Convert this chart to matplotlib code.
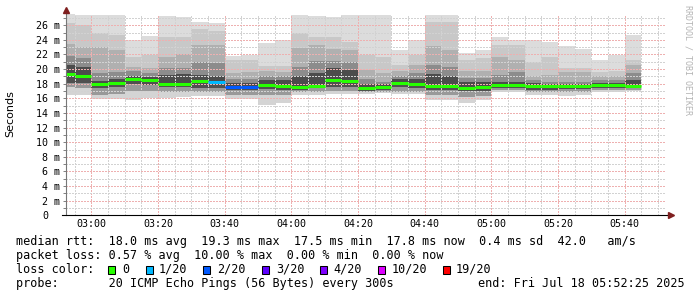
import numpy as np
import pandas as pd
import matplotlib
matplotlib.use('Agg')
import matplotlib.pyplot as plt
import matplotlib.dates as mdates
from matplotlib.ticker import MultipleLocator
from matplotlib.patches import Rectangle

plt.rcParams['font.family'] = ['DejaVu Sans Mono']

# one smoke column every 5 minutes (first one is cut by the left edge)
times = pd.date_range('2025-07-18 02:50', periods=35, freq='5min')
t_start = pd.Timestamp('2025-07-18 02:52:25')
t_end = pd.Timestamp('2025-07-18 05:52:25')

# smoke edges in ms, from the slowest ping down to the fastest
ping_max = [27.5, 27.4, 27.4, 27.4, 24.0, 24.5, 27.2, 27.1, 26.4, 26.3,
            21.8, 21.9, 23.6, 24.0, 27.4, 27.3, 27.1, 27.4, 27.4, 27.4,
            22.6, 24.0, 27.4, 27.4, 22.2, 22.6, 24.4, 24.0, 24.0, 23.7,
            23.1, 22.8, 21.3, 21.9, 24.7]
band1 = [26.3, 26.0, 24.9, 24.6, 21.7, 21.9, 24.4, 24.4, 25.5, 25.2,
         21.2, 21.3, 20.4, 20.4, 24.9, 24.4, 24.4, 23.7, 21.9, 21.6,
         20.6, 21.9, 26.5, 26.5, 21.2, 21.5, 23.3, 23.3, 21.0, 21.7,
         20.1, 20.1, 19.6, 19.8, 21.2]
band2 = [23.5, 23.0, 23.0, 22.6, 20.3, 20.1, 21.7, 22.0, 23.3, 23.3,
         19.5, 19.6, 19.7, 19.6, 22.9, 23.3, 22.7, 22.6, 19.9, 19.5,
         19.8, 20.6, 23.1, 22.6, 19.8, 19.8, 21.7, 21.2, 19.1, 19.2,
         19.6, 19.6, 19.0, 19.0, 20.6]
band3 = [21.8, 21.5, 19.4, 19.6, 19.8, 19.5, 20.1, 20.2, 21.0, 20.8,
         18.6, 18.6, 19.0, 19.0, 20.3, 21.1, 21.1, 21.0, 18.6, 18.3,
         19.0, 19.5, 20.6, 20.3, 18.8, 18.8, 19.2, 19.6, 18.5, 18.3,
         18.2, 18.2, 18.5, 18.5, 19.5]
band4 = [20.5, 20.3, 18.4, 18.7, 19.1, 18.9, 19.2, 19.3, 19.2, 19.1,
         18.1, 18.1, 18.5, 18.5, 19.0, 19.5, 20.1, 19.9, 18.0, 17.9,
         18.6, 18.7, 19.3, 19.0, 18.2, 18.2, 18.2, 18.3, 18.1, 18.0,
         17.9, 17.9, 18.1, 18.1, 18.5]
median = [19.3, 19.05, 17.96, 18.15, 18.7, 18.55, 17.96, 17.96, 18.4, 18.28,
          17.6, 17.6, 17.78, 17.7, 17.6, 17.73, 18.47, 18.37, 17.37, 17.55,
          18.1, 17.96, 17.65, 17.65, 17.4, 17.5, 17.8, 17.85, 17.65, 17.65,
          17.65, 17.7, 17.8, 17.8, 17.75]
low1 = [18.1, 18.1, 17.4, 17.5, 17.9, 17.8, 17.5, 17.5, 17.4, 17.4,
        17.2, 17.2, 17.3, 17.2, 17.2, 17.4, 17.6, 17.6, 17.0, 17.1,
        17.5, 17.4, 17.1, 17.1, 17.0, 17.0, 17.4, 17.4, 17.2, 17.2,
        17.3, 17.3, 17.4, 17.4, 17.4]
low2 = [17.5, 17.4, 16.5, 16.6, 17.0, 17.0, 16.8, 16.8, 16.8, 16.8,
        16.5, 16.5, 16.5, 16.4, 16.8, 16.9, 17.0, 17.0, 16.8, 16.9,
        16.9, 16.9, 16.4, 16.4, 16.2, 16.3, 17.1, 17.1, 16.9, 16.9,
        16.8, 16.8, 17.1, 17.1, 17.1]
ping_min = [16.5, 16.5, 15.9, 15.9, 15.8, 16.0, 16.0, 16.2, 16.3, 16.3,
            15.9, 15.9, 15.1, 15.3, 16.4, 16.4, 16.6, 16.6, 16.6, 16.7,
            16.6, 16.6, 15.8, 15.8, 15.4, 15.8, 16.9, 16.9, 16.5, 16.5,
            16.3, 16.5, 16.8, 16.8, 17.0]
# lost pings out of 20
loss = [0, 0, 0, 0, 0, 0, 0, 0, 0, 1,
        2, 2, 0, 0, 0, 0, 0, 0, 0, 0,
        0, 0, 0, 0, 0, 0, 0, 0, 0, 0,
        0, 0, 0, 0, 0]

loss_levels = [0, 1, 2, 3, 4, 10, 19]
loss_labels = ['0', '1/20', '2/20', '3/20', '4/20', '10/20', '19/20']
loss_colors = ['#26ff00', '#00b8ff', '#0059ff', '#5e00ff', '#7e00ff', '#dd00ff', '#ff0000']

legend_lines = [
    'median rtt:  18.0 ms avg  19.3 ms max  17.5 ms min  17.8 ms now  0.4 ms sd  42.0   am/s',
    'packet loss: 0.57 % avg  10.00 % max  0.00 % min  0.00 % now',
]
probe_text = 'probe:       20 ICMP Echo Pings (56 Bytes) every 300s'
end_text = 'end: Fri Jul 18 05:52:25 2025'

W, H = 697, 297
fig = plt.figure(figsize=(W / 100, H / 100), dpi=100)
ymax = 27.6
ax = fig.add_axes([66 / W, (H - 215.3) / H, 600 / W, ymax * 7.31 / H])

x = mdates.date2num(times.to_pydatetime())
w = 5 / 1440.0

# smoke: upper bands light -> dark, lower bands dark -> light
edges = [ping_max, band1, band2, band3, band4, median, low1, low2, ping_min]
shades = ['#dcdcdc', '#c8c8c8', '#b0b0b0', '#8c8c8c', '#4c4c4c',
          '#505050', '#999999', '#d4d4d4']
for hi, lo, c in zip(edges[:-1], edges[1:], shades):
    hi = np.array(hi)
    lo = np.array(lo)
    ax.bar(x, hi - lo, bottom=lo, width=w, align='edge', color=c,
           linewidth=0, antialiased=False, zorder=1)

line_cols = [loss_colors[loss_levels.index(l)] for l in loss]
ax.hlines(median, x, x + w, colors=line_cols, linewidth=2.2, zorder=3)

ax.set_xlim(mdates.date2num(t_start), mdates.date2num(t_end))
ax.set_ylim(0, ymax)
ax.xaxis_date()
ax.xaxis.set_major_locator(mdates.MinuteLocator(byminute=[0, 20, 40]))
ax.xaxis.set_minor_locator(mdates.MinuteLocator(byminute=range(0, 60, 5)))
ax.xaxis.set_major_formatter(mdates.DateFormatter('%H:%M'))
ax.yaxis.set_major_locator(MultipleLocator(2))
ax.yaxis.set_minor_locator(MultipleLocator(1))

dots = (0, (1.4, 1.4))
ax.grid(True, which='minor', color='#d2d2d2', linestyle=dots,
        linewidth=0.72, antialiased=False)
ax.grid(True, which='major', color='#eeb0b0', linestyle=dots,
        linewidth=0.72, antialiased=False)
ax.set_axisbelow(False)

ax.tick_params(axis='x', which='both', length=0, pad=3, labelsize=7.2)
ax.tick_params(axis='y', which='both', direction='out', length=2.2, width=0.7,
               color='#808080', labelleft=False)

for v in range(0, 27, 2):
    lab = '0' if v == 0 else f'{v} m'
    xo = -0.03 if v == 0 else -0.01
    ax.text(xo, v, lab, transform=ax.get_yaxis_transform(), ha='right',
            va='center_baseline', fontsize=7.2)

for s in ax.spines.values():
    s.set_visible(False)
ax.plot([0, 0], [0, 1.012], transform=ax.transAxes, color='#777777', lw=0.8,
        clip_on=False, zorder=4)
ax.plot([-0.007, 1.007], [0, 0], transform=ax.transAxes, color='black', lw=0.8,
        clip_on=False, zorder=4)
ax.plot([0], [1.017], marker='^', ms=4, color='#7f1f1f', transform=ax.transAxes,
        clip_on=False, zorder=5)
ax.plot([1.009], [0], marker='>', ms=4, color='#7f1f1f', transform=ax.transAxes,
        clip_on=False, zorder=5)

fig.text(10 / W, 1 - 113.5 / H, 'Seconds', rotation=90, ha='center', va='center',
         family='DejaVu Sans', fontsize=8)
fig.text(688 / W, 1 - 60 / H, 'RRDTOOL / TOBI OETIKER', rotation=270, ha='center',
         va='center', fontsize=6, color='#b4b4b4')

# legend block under the graph
fs = 8.5
fig.text(16 / W, 1 - 245 / H, legend_lines[0], fontsize=fs, va='baseline')
fig.text(16 / W, 1 - 259 / H, legend_lines[1], fontsize=fs, va='baseline')
fig.text(16 / W, 1 - 272.7 / H, 'loss color:', fontsize=fs, va='baseline')
sq_x = [108.3, 145.7, 203.3, 261.7, 320, 377.7, 442.7]
lab_x = [122.5, 159, 217.5, 276, 333, 392, 456]
for sx, lx, lab, c in zip(sq_x, lab_x, loss_labels, loss_colors):
    fig.add_artist(Rectangle((sx / W, 1 - 273.5 / H), 7 / W, 8 / H, facecolor=c,
                             edgecolor='black', linewidth=0.75, transform=fig.transFigure))
    fig.text(lx / W, 1 - 272.7 / H, lab, fontsize=fs, va='baseline')
fig.text(16 / W, 1 - 286.7 / H, probe_text, fontsize=fs, va='baseline')
fig.text(477.5 / W, 1 - 286.7 / H, end_text, fontsize=fs, va='baseline')

fig.savefig('out.png', dpi=100)
